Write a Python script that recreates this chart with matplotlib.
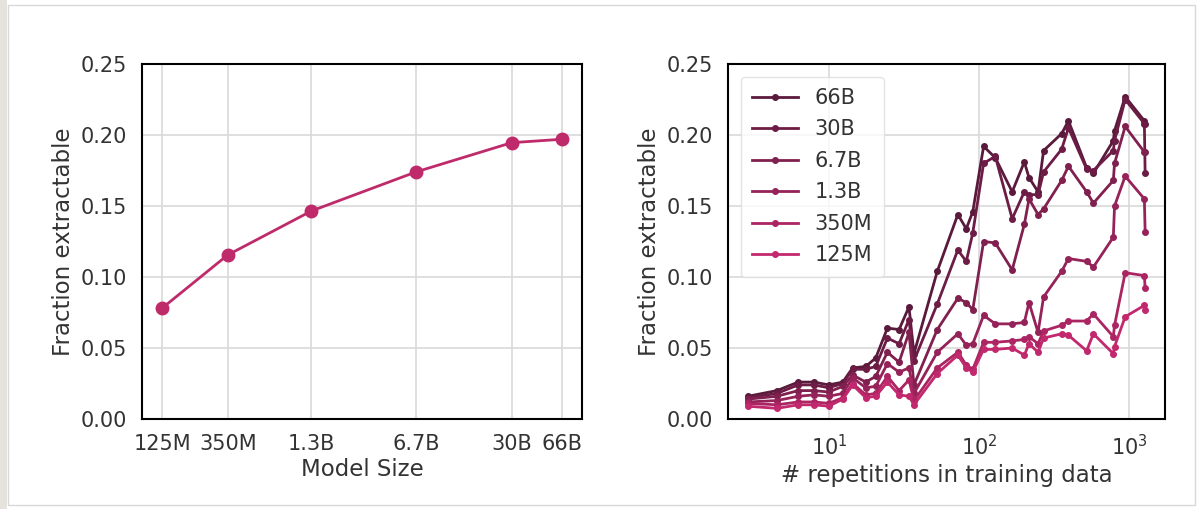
import matplotlib
matplotlib.use("Agg")
import matplotlib.pyplot as plt
import matplotlib.ticker as mticker
from matplotlib.patches import Rectangle

plt.rcParams['font.family'] = ['DejaVu Sans']

# ---- data: left panel ----
model_labels = ["125M", "350M", "1.3B", "6.7B", "30B", "66B"]
model_params = [125e6, 350e6, 1.3e9, 6.7e9, 30e9, 66e9]
frac_by_size = [0.078, 0.1155, 0.1465, 0.174, 0.1946, 0.197]

# ---- data: right panel ----
repetitions = [2.86, 4.47, 6.2, 7.9, 9.9, 12.3, 14.3, 17.5, 20.4, 24.4, 29.2, 34, 36.7,
               52.5, 72, 82, 90.6, 107, 128, 166, 200, 215, 247, 269, 355, 394, 521,
               578, 785, 800, 942, 1265, 1280]
frac_66b = [0.016, 0.020, 0.026, 0.026, 0.024, 0.026, 0.036, 0.037, 0.043, 0.064, 0.063,
            0.079, 0.046, 0.104, 0.144, 0.134, 0.146, 0.192, 0.184, 0.160, 0.181, 0.170,
            0.160, 0.189, 0.201, 0.210, 0.177, 0.173, 0.196, 0.203, 0.227, 0.210, 0.208]
frac_30b = [0.015, 0.018, 0.024, 0.024, 0.022, 0.025, 0.035, 0.035, 0.037, 0.057, 0.053,
            0.070, 0.041, 0.081, 0.119, 0.111, 0.131, 0.180, 0.185, 0.141, 0.160, 0.158,
            0.158, 0.174, 0.190, 0.205, 0.176, 0.175, 0.189, 0.196, 0.225, 0.208, 0.173]
frac_6_7b = [0.014, 0.016, 0.020, 0.020, 0.019, 0.023, 0.031, 0.026, 0.030, 0.047, 0.040,
             0.061, 0.024, 0.063, 0.085, 0.082, 0.077, 0.125, 0.124, 0.105, 0.137, 0.155,
             0.144, 0.148, 0.168, 0.178, 0.160, 0.152, 0.168, 0.180, 0.206, 0.188, 0.188]
frac_1_3b = [0.012, 0.013, 0.016, 0.017, 0.016, 0.018, 0.029, 0.022, 0.023, 0.039, 0.033,
             0.036, 0.018, 0.047, 0.060, 0.052, 0.053, 0.073, 0.067, 0.067, 0.068, 0.082,
             0.061, 0.086, 0.104, 0.113, 0.111, 0.107, 0.128, 0.150, 0.171, 0.155, 0.132]
frac_350m = [0.011, 0.010, 0.012, 0.012, 0.011, 0.015, 0.025, 0.017, 0.018, 0.030, 0.020,
             0.0275, 0.013, 0.036, 0.047, 0.038, 0.035, 0.054, 0.054, 0.055, 0.056, 0.058,
             0.053, 0.062, 0.066, 0.069, 0.069, 0.074, 0.058, 0.066, 0.103, 0.101, 0.092]
frac_125m = [0.009, 0.0075, 0.010, 0.010, 0.009, 0.014, 0.024, 0.015, 0.016, 0.026, 0.017,
             0.016, 0.010, 0.032, 0.045, 0.036, 0.033, 0.049, 0.049, 0.050, 0.045, 0.053,
             0.047, 0.057, 0.060, 0.059, 0.048, 0.060, 0.046, 0.051, 0.072, 0.080, 0.077]

series_labels = ["66B", "30B", "6.7B", "1.3B", "350M", "125M"]
series_values = [frac_66b, frac_30b, frac_6_7b, frac_1_3b, frac_350m, frac_125m]
series_colors = ["#5a1a3c", "#6c1c45", "#80204f", "#952259", "#ab2563", "#c2286d"]
left_color = "#bf2a6b"

yticks = [0.0, 0.05, 0.10, 0.15, 0.20, 0.25]
text_color = "#333333"
fs_tick = 15
fs_label = 16.5
fs_legend = 15

fig = plt.figure(figsize=(12.03, 5.09), dpi=100)
fig.patch.set_facecolor("white")

# screenshot frame
fig.patches.append(Rectangle((0, 0), 7 / 1203, 1, transform=fig.transFigure,
                             facecolor="#e6e2de", edgecolor="none", zorder=0))
fig.patches.append(Rectangle((8 / 1203, 4 / 509), 1187 / 1203, 500 / 509,
                             transform=fig.transFigure, facecolor="none",
                             edgecolor="#d8d8d8", lw=1.0, zorder=0))


def style_axes(ax):
    ax.set_facecolor("white")
    for s in ax.spines.values():
        s.set_color("black")
        s.set_linewidth(1.5)
    ax.grid(True, which="major", color="#d9d9d9", lw=1.2)
    ax.set_axisbelow(True)
    ax.tick_params(axis="both", which="both", length=0, labelsize=fs_tick,
                   labelcolor=text_color, pad=11)
    ax.set_ylim(0, 0.25)
    ax.set_yticks(yticks)
    ax.yaxis.set_major_formatter(mticker.FormatStrFormatter("%.2f"))
    ax.set_ylabel("Fraction extractable", fontsize=fs_label, color=text_color, labelpad=4)


ax1 = fig.add_axes([142 / 1203, 90 / 509, 440 / 1203, 355 / 509])
style_axes(ax1)
ax1.plot(model_params, frac_by_size, color=left_color, lw=2, marker="o", ms=9)
ax1.set_xscale("log")
ax1.set_xticks(model_params)
ax1.set_xticklabels(model_labels)
ax1.xaxis.set_minor_locator(mticker.NullLocator())
ax1.set_xlabel("Model Size", fontsize=fs_label, color=text_color, labelpad=3)

ax2 = fig.add_axes([728 / 1203, 90 / 509, 437 / 1203, 355 / 509])
style_axes(ax2)
for lab, vals, col in zip(series_labels, series_values, series_colors):
    ax2.plot(repetitions, vals, color=col, lw=2, marker="o", ms=4, label=lab)
ax2.set_xscale("log")
ax2.set_xticks([10, 100, 1000])
ax2.xaxis.set_minor_locator(mticker.NullLocator())
ax2.set_xlabel("# repetitions in training data", fontsize=fs_label, color=text_color,
               labelpad=3)
leg = ax2.legend(loc="upper left", fontsize=fs_legend, frameon=True, fancybox=True,
                 handlelength=2.2, handletextpad=0.8, labelspacing=0.55, borderpad=0.55,
                 bbox_to_anchor=(0.0, 1.0), borderaxespad=0.6)
leg.get_frame().set_edgecolor("#dddddd")
for t in leg.get_texts():
    t.set_color(text_color)

fig.savefig("out.png", dpi=100, facecolor="white")
